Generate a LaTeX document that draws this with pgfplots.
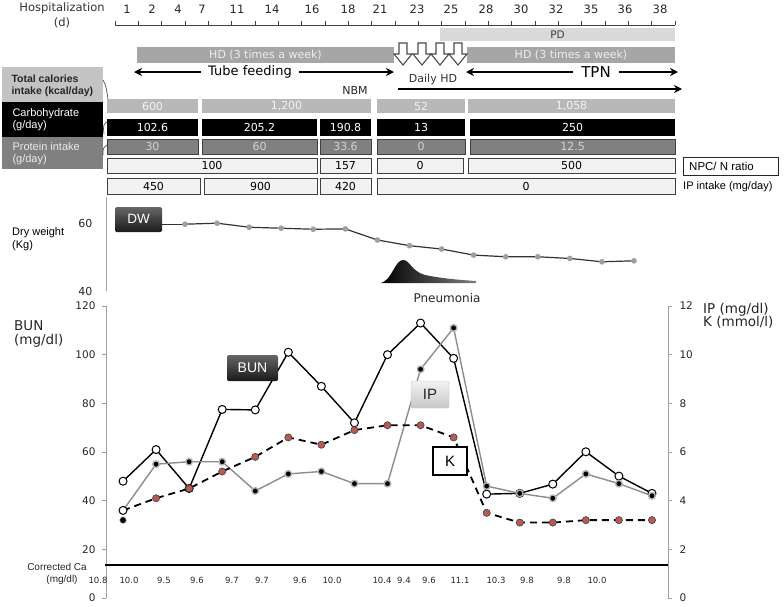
\documentclass[border=0pt]{standalone}
\usepackage{fontspec}
\setmainfont{DejaVu Sans}
\newfontfamily\arial{Liberation Sans}
\usepackage{pgfplots}
\pgfplotsset{compat=1.18}
\usetikzlibrary{arrows.meta}

\definecolor{axgray}{HTML}{A0A0A0}
\definecolor{ipgray}{HTML}{8C8C8C}
\definecolor{kred}{HTML}{B85A4E}
\definecolor{hdgray}{HTML}{A6A6A6}
\definecolor{hdtext}{HTML}{EDEDED}
\definecolor{pdgray}{HTML}{D9D9D9}
\definecolor{calgray}{HTML}{B8B8B8}
\definecolor{caltext}{HTML}{F2F2F2}
\definecolor{protgray}{HTML}{808080}
\definecolor{prottext}{HTML}{D4D4D4}
\definecolor{cellfill}{HTML}{F2F2F2}

\newcommand{\fsz}[1]{\fontsize{#1}{#1}\selectfont}
% rectangle style, text style, x1, x2, y1, y2, text
\newcommand{\cell}[7]{%
  \path[#1] (#3,#5) rectangle (#4,#6);
  \node[inner sep=0pt,#2] at ({(#3+#4)/2},{(#5+#6)/2}) {#7};}
\newcommand{\hdarrow}[1]{%
  \filldraw[fill=white, draw=black!70, line width=1.1pt, line join=miter]
    (#1-4,43) -- (#1+4,43) -- (#1+4,54) -- (#1+9,54) -- (#1,65)
    -- (#1-9,54) -- (#1-4,54) -- cycle;}

\begin{document}
\begin{tikzpicture}
\useasboundingbox (0pt,0pt) rectangle (784pt,-606pt);

% ---------- dry weight panel ----------
\begin{axis}[
  at={(106pt,-291pt)}, anchor=south west,
  scale only axis, width=562pt, height=94pt,
  xmin=-2.463, xmax=15.06, ymin=40, ymax=68,
  axis x line=none, axis y line*=left,
  y axis line style={draw=axgray, line width=0.9pt, -},
  ytick={40,60}, major tick length=0pt,
  yticklabel style={font=\fsz{11}, text=black!85, xshift=-10pt},
  /pgf/number format/assume math mode=true,
  clip=false,
]
\addplot[black!80, line width=1.2pt] coordinates {(-0.72,59.9) (0,59.9)};
\addplot[black!80, line width=1.2pt, mark=*, mark size=2.2pt,
  mark options={fill=gray!75, draw=gray!75}] coordinates {
  (0,59.9) (1,60.2) (2,59.0) (3,58.7) (4,58.4) (5,58.5) (6,55.2) (7,53.5)
  (8,52.5) (9,50.7) (10,50.2) (11,50.2) (12,49.7) (13,48.7) (14,49.0)
};
\end{axis}

% ---------- BUN (left axis) ----------
\begin{axis}[
  at={(106pt,-598pt)}, anchor=south west,
  scale only axis, width=562pt, height=292pt,
  xmin=-0.515, xmax=16.485, ymin=0, ymax=120,
  axis x line=none, axis y line*=left,
  y axis line style={draw=axgray, line width=0.9pt, -},
  ytick={0,20,...,120},
  tick style={draw=axgray, line width=0.9pt},
  tick align=outside, major tick length=4pt,
  yticklabel style={font=\fsz{10.5}, text=black!85, xshift=-3pt},
  /pgf/number format/assume math mode=true,
  clip=false,
]
\addplot[black, line width=1.4pt, mark=*, mark size=4pt,
  mark options={fill=white, draw=black, line width=1pt}] coordinates {
  (0,48) (1,61) (2,45) (3,77.5) (4,77.3) (5,101) (6,87) (7,72) (8,100)
  (9,113) (10,98.5) (11,42.7) (12,43) (13,46.8) (14,60.1) (15,50.1) (16,43)
};
\end{axis}

% ---------- IP and K (right axis) ----------
\begin{axis}[
  at={(106pt,-598pt)}, anchor=south west,
  scale only axis, width=562pt, height=292pt,
  xmin=-0.515, xmax=16.485, ymin=0, ymax=12,
  axis x line=none, axis y line*=right,
  y axis line style={draw=axgray, line width=0.9pt, -},
  ytick={0,2,...,12},
  tick style={draw=axgray, line width=0.9pt},
  tick align=outside, major tick length=4pt,
  yticklabel style={font=\fsz{10.5}, text=black!85, xshift=4pt},
  /pgf/number format/assume math mode=true,
  clip=false,
]
\addplot[ipgray, line width=1.4pt, mark=*, mark size=3.3pt, mark phase=2,
  mark options={fill=black, draw=gray!60}] coordinates {
  (0,3.6) (1,5.5) (2,5.6) (3,5.6) (4,4.4) (5,5.1) (6,5.2) (7,4.7) (8,4.7)
  (9,9.4) (10,11.1) (11,4.6) (12,4.3) (13,4.1) (14,5.1) (15,4.7) (16,4.2)
};
\addplot[black, line width=1.8pt, dash pattern=on 7pt off 5pt, mark=*,
  mark size=3.6pt, mark phase=2,
  mark options={solid, fill=kred, draw=black!75, line width=0.6pt}] coordinates {
  (0,3.6) (1,4.1) (2,4.5) (3,5.2) (4,5.8) (5,6.6) (6,6.3) (7,6.9) (8,7.1)
  (9,7.1) (10,6.6) (11,3.5) (12,3.1) (13,3.1) (14,3.2) (15,3.2) (16,3.2)
};
\addplot[only marks, mark=*, mark size=3.3pt,
  mark options={fill=black, draw=gray!60}] coordinates {(0,3.2)};
\addplot[only marks, mark=*, mark size=4pt,
  mark options={fill=white, draw=black, line width=1pt}] coordinates {(0,3.6)};
\end{axis}

% ---------- annotations in pixel coordinates ----------
\begin{scope}[x=1pt, y=-1pt]
% timeline
\node[font=\fsz{11.5}, text=black!80] at (62,8) {Hospitalization};
\node[font=\fsz{11.5}, text=black!80] at (62,23) {(d)};
\draw[black!75, line width=0.9pt] (115,25) -- (675,25);
\foreach \i in {0,...,24}
  \draw[black!75, line width=0.9pt] ({115+23.333*\i},25) -- ({115+23.333*\i},21);
\foreach \x/\t in {127/1,152/2,178/4,202/7,237/11,272/14,312/16,348/18,380/21,
                   417/23,451/25,486/28,521/30,556/32,591/35,625/36,660/38}
  \node[font=\fsz{11.5}, text=black!85] at (\x,9) {\t};

% PD and HD bars
\cell{fill=pdgray}{font=\fsz{10.5}, text=black!75}{440}{675}{28}{41}{PD}
\cell{fill=hdgray}{font=\fsz{11}, text=hdtext}{137}{394}{47}{63}{HD (3 times a week)}
\cell{fill=hdgray}{font=\fsz{11}, text=hdtext}{467}{675}{47}{63}{HD (3 times a week)}
\hdarrow{403}\hdarrow{422}\hdarrow{440}\hdarrow{458}

% feeding arrows
\draw[{Stealth[length=8pt,width=8pt]}-{Stealth[length=8pt,width=8pt]}, line width=2pt]
  (134,72) -- (394,72);
\node[fill=white, inner xsep=7pt, inner ysep=1pt, font=\fsz{13}] at (250,72) {Tube feeding};
\draw[{Stealth[length=8pt,width=8pt]}-{Stealth[length=8pt,width=8pt]}, line width=2pt]
  (466,72) -- (678,72);
\node[fill=white, inner xsep=8pt, inner ysep=1pt, font=\fsz{15}] at (596,72) {TPN};
\node[font=\fsz{11}, text=black!80] at (433,79) {Daily HD};
\draw[-{Stealth[length=8pt,width=8pt]}, line width=2pt] (398,89) -- (682,89);
\node[font=\fsz{11}, text=black!85] at (355,90) {NBM};

% left label boxes
\path[fill=calgray!85] (2,67) rectangle (103,102);
\node[font=\arial\bfseries\fsz{10.5}, align=left, anchor=west, text=black!85] at (8,86)
  {Total calories\\[1pt]intake (kcal/day)};
\path[fill=black] (2,102) rectangle (103,137);
\node[font=\arial\fsz{11}, align=left, anchor=west, text=white] at (9,120)
  {Carbohydrate\\[1pt](g/day)};
\path[fill=protgray] (2,137) rectangle (103,169);
\node[font=\arial\fsz{11}, align=left, anchor=west, text=white!92!black] at (9,154)
  {Protein intake\\[1pt](g/day)};
\draw[black!70, line width=0.7pt] (103,80) .. controls (106,86) .. (108,99);
\draw[black!70, line width=0.7pt] (108,121) .. controls (103,125) .. (104,134);
\draw[black!70, line width=0.7pt] (107,145) .. controls (103,148) .. (103,155);

% calories row
\cell{fill=calgray}{font=\fsz{11}, text=caltext}{107}{198}{99}{113}{600}
\cell{fill=calgray}{font=\fsz{11}, text=caltext}{202}{371}{99}{113}{1,200}
\cell{fill=calgray}{font=\fsz{11}, text=caltext}{377}{465}{99}{113}{52}
\cell{fill=calgray}{font=\fsz{11}, text=caltext}{468}{675}{99}{113}{1,058}
% carbohydrate row
\cell{fill=black}{font=\fsz{11}, text=white}{107}{198}{119}{136}{102.6}
\cell{fill=black}{font=\fsz{11}, text=white}{202}{317}{119}{136}{205.2}
\cell{fill=black}{font=\fsz{11}, text=white}{320}{371}{119}{136}{190.8}
\cell{fill=black}{font=\fsz{11}, text=white}{377}{465}{119}{136}{13}
\cell{fill=black}{font=\fsz{11}, text=white}{470}{675}{119}{136}{250}
% protein row
\cell{fill=protgray, draw=black!75, line width=0.9pt}{font=\fsz{11}, text=prottext}{107}{198}{139}{154}{30}
\cell{fill=protgray, draw=black!75, line width=0.9pt}{font=\fsz{11}, text=prottext}{202}{317}{139}{154}{60}
\cell{fill=protgray, draw=black!75, line width=0.9pt}{font=\fsz{11}, text=prottext}{320}{371}{139}{154}{33.6}
\cell{fill=protgray, draw=black!75, line width=0.9pt}{font=\fsz{11}, text=prottext}{377}{465}{139}{154}{0}
\cell{fill=protgray, draw=black!75, line width=0.9pt}{font=\fsz{11}, text=prottext}{470}{675}{139}{154}{12.5}
% NPC/N row
\cell{fill=cellfill, draw=black!75, line width=0.9pt}{font=\fsz{11}, text=black}{107}{317}{158}{173}{100}
\cell{fill=cellfill, draw=black!75, line width=0.9pt}{font=\fsz{11}, text=black}{320}{371}{158}{173}{157}
\cell{fill=cellfill, draw=black!75, line width=0.9pt}{font=\fsz{11}, text=black}{377}{463}{158}{173}{0}
\cell{fill=cellfill, draw=black!75, line width=0.9pt}{font=\fsz{11}, text=black}{468}{675}{158}{173}{500}
\draw[black!85, line width=0.9pt, fill=white] (683,157) rectangle (778,175);
\node[font=\arial\fsz{11.5}, anchor=west, inner sep=0pt] at (689,166) {NPC/ N ratio};
% IP intake row
\cell{fill=cellfill, draw=black!75, line width=0.9pt}{font=\fsz{11}, text=black}{107}{200}{178}{194}{450}
\cell{fill=cellfill, draw=black!75, line width=0.9pt}{font=\fsz{11}, text=black}{204}{317}{178}{194}{900}
\cell{fill=cellfill, draw=black!75, line width=0.9pt}{font=\fsz{11}, text=black}{320}{371}{178}{194}{420}
\cell{fill=cellfill, draw=black!75, line width=0.9pt}{font=\fsz{11}, text=black}{377}{675}{178}{194}{0}
\node[font=\arial\fsz{11}, anchor=west, inner sep=0pt] at (683,187) {IP intake (mg/day)};

% dry weight labels
\node[font=\arial\fsz{11}, align=left, anchor=west, inner sep=0pt] at (12,239)
  {Dry weight\\[2pt](Kg)};
\path[top color=black!60, bottom color=black!90, rounded corners=1.5pt]
  (115,207) rectangle (162,232);
\node[font=\arial\fsz{13.5}, text=white] at (138.5,219) {DW};

% pneumonia
\path[left color=black, right color=black!50]
  (381,283) .. controls (392,280) and (395,260) .. (403,260)
  .. controls (410,260) and (411,271) .. (425,275)
  .. controls (445,279) and (462,280) .. (476,281) -- (476,283) -- cycle;
\node[font=\fsz{12}, text=black!85] at (447,298) {Pneumonia};

% main chart labels
\node[font=\fsz{13.5}, align=left, anchor=west, inner sep=0pt, text=black!85] at (14,334)
  {BUN\\(mg/dl)};
\node[font=\fsz{13.5}, align=left, anchor=west, inner sep=0pt, text=black!85] at (703,316)
  {IP (mg/dl)\\K (mmol/l)};
\path[top color=black!60, bottom color=black!90, rounded corners=1.5pt]
  (227,355) rectangle (278,381);
\node[font=\arial\fsz{14}, text=white] at (252.5,368) {BUN};
\path[top color=white!95!black, bottom color=black!22, draw=black!25, rounded corners=1.5pt]
  (411,381) rectangle (449,408);
\node[font=\arial\fsz{15}, text=black!85] at (430,394.5) {IP};
\draw[fill=white, draw=black, line width=1.4pt] (433,447) rectangle (467,475);
\node[font=\arial\fsz{15}] at (450,461) {K};

% corrected Ca
\draw[black, line width=1.2pt] (105,565) -- (668,565);
\node[font=\arial\fsz{10}, text=black!85] at (57,567) {Corrected Ca};
\node[font=\arial\fsz{10}, text=black!85] at (62,580) {(mg/dl)};
\foreach \x/\t in {98/10.8,129/10.0,164/9.5,197/9.6,232/9.7,262/9.7,300/9.6,332/10.0,
                   382/10.4,404/9.4,429/9.6,460/11.1,496/10.3,527/9.8,564/9.8,597/10.0}
  \node[font=\fsz{8.5}, text=black!85] at (\x,580) {\t};
\end{scope}
\end{tikzpicture}
\end{document}
